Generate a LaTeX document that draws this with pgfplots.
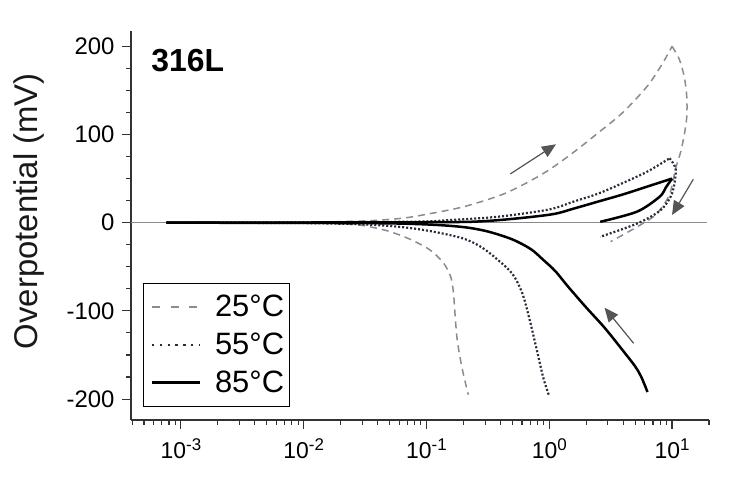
\documentclass[border=0pt]{standalone}
\usepackage{pgfplots}
\pgfplotsset{compat=1.18}
\usepackage{fontspec}
\setmainfont{Liberation Sans}
\usetikzlibrary{arrows.meta}
\definecolor{gline}{HTML}{8C8C8C}
\definecolor{dline}{HTML}{2B2B3B}
\definecolor{aline}{HTML}{555555}
\newcommand{\pw}[1]{10\raisebox{0.36em}{\fontsize{17}{17}\selectfont #1}}
\begin{document}
\begin{tikzpicture}
\begin{axis}[
  at={(0,0)}, anchor=south west,
  scale only axis, width=578bp, height=389bp,
  xmode=log, xmin=3.92e-4, xmax=20, ymin=-223.7, ymax=217.3,
  axis lines*=left,
  axis line style={draw=black!80, line width=1.2bp},
  tick align=outside,
  major tick length=9bp, minor tick length=5bp,
  every tick/.style={black!80, line width=1.1bp},
  xtick={1e-3,1e-2,1e-1,1,10},
  xticklabels={\pw{-3},\pw{-2},\pw{-1},\pw{0},\pw{1}},
  minor xtick={4e-4,5e-4,6e-4,7e-4,8e-4,9e-4,2e-3,3e-3,4e-3,5e-3,6e-3,7e-3,8e-3,9e-3,2e-2,3e-2,4e-2,5e-2,6e-2,7e-2,8e-2,9e-2,0.2,0.3,0.4,0.5,0.6,0.7,0.8,0.9,2,3,4,5,6,7,8,9,20},
  ytick={-200,-100,0,100,200},
  yticklabels={-200,-100,0,100,200},
  minor ytick={-175,-150,-125,-75,-50,-25,25,50,75,125,150,175},
  xticklabel style={font=\fontsize{23}{23}\selectfont, yshift=-6bp},
  yticklabel style={font=\fontsize{24}{24}\selectfont, xshift=-4bp},
  clip=false,
  legend style={at={(0.0200,0.353)}, anchor=north west, draw=black, line width=1bp,
    font=\fontsize{31}{31}\selectfont, row sep=15bp, inner xsep=5bp, inner ysep=12bp,
    nodes={inner sep=0pt}},
  legend cell align=left,
  legend image code/.code={\draw[#1] (4bp,0bp) -- (52bp,0bp); \path[draw=none, fill=none] (0bp,0bp) -- (67bp,0bp);},
]
% zero line
\addplot[forget plot, black!45, line width=0.8bp] coordinates {(3.92e-4,0) (19.4,0)};

% 25 C anodic
\addplot[gline, line width=1.5bp, dash pattern=on 7bp off 5bp, smooth,
  legend image post style={dash pattern=on 8bp off 10.5bp, line width=2bp}] coordinates {
(7.6e-4,0) (0.01,0.5) (0.0316,2) (0.063,5) (0.1,9.5) (0.2,18) (0.398,31) (0.631,44) (1,60) (1.585,80) (2.51,102) (3.98,125) (6.31,155) (8.32,180) (10,200)};
\addlegendentry{25°C}
% 55 C anodic
\addplot[dline, line width=2.2bp, dash pattern=on 2bp off 2bp, smooth,
  legend image post style={dash pattern=on 2.4bp off 5.4bp}] coordinates {
(7.6e-4,0) (0.063,1) (0.158,3) (0.398,7) (1,15) (1.585,24) (2.51,33) (3.98,45) (6.31,58) (9.55,73)};
\addlegendentry{55°C}
% 85 C anodic
\addplot[black, line width=2.5bp, smooth, legend image post style={line width=3bp}] coordinates {
(7.6e-4,0) (0.1,0.5) (0.316,2) (1,9) (1.585,16) (2.51,24) (3.98,32) (6.31,41) (10,50)};
\addlegendentry{85°C}

% 25 C reverse
\addplot[forget plot, gline, line width=1.5bp, dash pattern=on 7bp off 5bp, smooth] coordinates {
(10,200) (11.48,185) (12.59,165) (13.18,143) (13.18,120) (12.59,100) (11.75,80) (10.72,62) (9.66,34) (8.51,20) (7.08,7) (5.01,-6) (3.16,-21.5)};
% 55 C reverse
\addplot[forget plot, dline, line width=2.2bp, dash pattern=on 2bp off 2bp, smooth] coordinates {
(9.55,73) (10.72,60) (10,33) (8.04,14) (5.19,-1) (2.6,-16)};
% 85 C reverse
\addplot[forget plot, black, line width=2.5bp, smooth] coordinates {
(10,50) (8.91,40) (7.94,29.5) (5.19,12.5) (2.6,1)};

% 25 C cathodic
\addplot[forget plot, gline, line width=1.5bp, dash pattern=on 7bp off 5bp, smooth] coordinates {
(7.6e-4,0) (0.01,-0.5) (0.0251,-2) (0.0355,-5) (0.0501,-10) (0.0741,-19) (0.107,-31) (0.138,-46) (0.158,-62) (0.166,-80) (0.170,-100) (0.178,-133) (0.195,-165) (0.219,-195)};
% 55 C cathodic
\addplot[forget plot, dline, line width=2.2bp, dash pattern=on 2bp off 2bp, smooth] coordinates {
(7.6e-4,0) (0.01,-0.5) (0.0316,-2) (0.063,-5) (0.112,-10) (0.2,-18) (0.282,-28) (0.380,-42) (0.501,-58) (0.603,-80) (0.692,-110) (0.794,-145) (0.891,-175) (1.0,-197)};
% 85 C cathodic
\addplot[forget plot, black, line width=2.5bp, smooth] coordinates {
(7.6e-4,0) (0.0316,-0.5) (0.1,-2) (0.2,-5) (0.316,-10) (0.501,-19) (0.708,-30) (0.891,-42) (1.122,-55) (1.413,-72) (1.995,-96) (2.818,-119) (3.981,-145) (5.012,-163) (5.623,-175) (6.31,-192)};

% arrows
\draw[-{Triangle[length=14bp,width=12bp]}, draw=aline, fill=aline, line width=1.2bp] (axis cs:0.481,55.2) -- (axis cs:1.135,88.9);
\draw[-{Triangle[length=14bp,width=12bp]}, draw=aline, fill=aline, line width=1.2bp] (axis cs:14.9,49.2) -- (axis cs:10,8.7);
\draw[-{Triangle[length=14bp,width=12bp]}, draw=aline, fill=aline, line width=1.2bp] (axis cs:4.86,-136.7) -- (axis cs:2.82,-96.4);

\node[anchor=west, inner sep=0pt, font=\bfseries\fontsize{32}{32}\selectfont] at (rel axis cs:0.035,0.925) {316L};
\node[rotate=90, inner sep=0pt, font=\fontsize{33}{33}\selectfont, text=black!90] at (rel axis cs:-0.177,0.537) {Overpotential (mV)};
\end{axis}
\pgfresetboundingbox
\path[use as bounding box] (-131bp,-66bp) rectangle (611bp,420bp);
\end{tikzpicture}
\end{document}
